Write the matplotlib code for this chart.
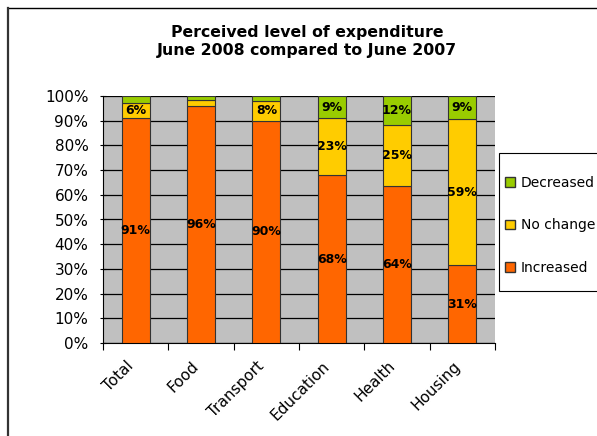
import numpy as np
import matplotlib.pyplot as plt
import matplotlib.transforms as mtransforms
from matplotlib.lines import Line2D
from matplotlib.patches import Patch, Rectangle

# categories and shares (percent)
categories = ['Total', 'Food', 'Transport', 'Education', 'Health', 'Housing']
increased = [91, 96, 90, 68, 63.7, 31.4]
no_change = [6, 2.2, 8, 23, 24.6, 59.4]
decreased = [3, 1.8, 2, 9, 11.7, 9.2]

# which segments carry a label
show_inc = [True, True, True, True, True, True]
show_noc = [True, False, True, True, True, True]
show_dec = [False, False, False, True, True, True]

c_inc = '#FF6600'
c_noc = '#FFCC00'
c_dec = '#99CC00'

W, H = 597, 436
fig = plt.figure(figsize=(W / 100, H / 100), dpi=100)
ax = fig.add_axes([103 / W, 1 - 343 / H, 392 / W, 247 / H])
ax.set_facecolor('#C0C0C0')

x = np.arange(len(categories))
inc = np.array(increased)
noc = np.array(no_change)
dec = np.array(decreased)
width = 0.43

ax.bar(x, inc, width, color=c_inc, edgecolor='#333333', linewidth=0.8, zorder=3)
ax.bar(x, noc, width, bottom=inc, color=c_noc, edgecolor='#333333', linewidth=0.8, zorder=3)
ax.bar(x, dec, width, bottom=inc + noc, color=c_dec, edgecolor='#333333', linewidth=0.8, zorder=3)

# data labels
for i in range(len(categories)):
    if show_inc[i]:
        ax.text(x[i], inc[i] / 2, f'{inc[i]:.0f}%', ha='center', va='center',
                fontsize=9, fontweight='bold', zorder=4)
    if show_noc[i]:
        ax.text(x[i], inc[i] + noc[i] / 2, f'{noc[i]:.0f}%', ha='center', va='center',
                fontsize=9, fontweight='bold', zorder=4)
    if show_dec[i]:
        ax.text(x[i], inc[i] + noc[i] + dec[i] / 2, f'{dec[i]:.0f}%', ha='center', va='center',
                fontsize=9, fontweight='bold', zorder=4)

ax.set_xlim(-0.5, len(categories) - 0.5)
ax.set_ylim(0, 100)
ax.set_yticks(np.arange(0, 101, 10))
ax.set_yticklabels([f'{v}%' for v in range(0, 101, 10)], fontsize=11)
ax.yaxis.grid(True, color='black', linewidth=0.9, zorder=1)
ax.set_axisbelow(True)

# category labels centered, ticks at boundaries
ax.set_xticks(np.arange(len(categories) + 1) - 0.5)
ax.set_xticklabels([])
ax.set_xticks(x, minor=True)
ax.set_xticklabels(categories, minor=True, rotation=45, ha='right',
                   rotation_mode='anchor', fontsize=11)
ax.tick_params(axis='x', which='minor', length=0, pad=11)
ax.tick_params(axis='x', which='major', length=5, color='black')
ax.tick_params(axis='y', length=5, direction='inout', pad=8)
shift = mtransforms.ScaledTranslation(-7 / 72, 0, fig.dpi_scale_trans)
for lab in ax.get_xticklabels(minor=True):
    lab.set_transform(lab.get_transform() + shift)

for s in ['top', 'right']:
    ax.spines[s].set_visible(False)
ax.spines['left'].set_color('black')
ax.spines['bottom'].set_color('black')

fig.text(307 / W, 1 - 32 / H, 'Perceived level of expenditure', ha='center', va='center',
         fontsize=11.3, fontweight='bold')
fig.text(307 / W, 1 - 50 / H, 'June 2008 compared to June 2007', ha='center', va='center',
         fontsize=11.3, fontweight='bold')

# legend frame drawn separately, runs off the right edge like the original
fig.add_artist(Rectangle((499 / W, 1 - 291 / H), 120 / W, 138 / H, transform=fig.transFigure,
                         facecolor='white', edgecolor='black', linewidth=0.8, zorder=2))
handles = [Patch(facecolor=c_dec, edgecolor='#333333'),
           Patch(facecolor=c_noc, edgecolor='#333333'),
           Patch(facecolor=c_inc, edgecolor='#333333')]
leg = fig.legend(handles, ['Decreased', 'No change', 'Increased'],
                 loc='upper left', bbox_to_anchor=(505 / W, 1 - 176 / H),
                 fontsize=10, frameon=False,
                 handlelength=0.7, handleheight=0.7, handletextpad=0.45,
                 labelspacing=2.05, borderpad=0, borderaxespad=0)
leg.set_zorder(3)

# outer chart border (top and left visible)
fig.add_artist(Line2D([7.5 / W, 1.0], [1 - 8 / H, 1 - 8 / H], color='black', linewidth=1))
fig.add_artist(Line2D([7.5 / W, 7.5 / W], [0, 1 - 8 / H], color='#333333', linewidth=1.6))

fig.savefig('out.png', dpi=100)
